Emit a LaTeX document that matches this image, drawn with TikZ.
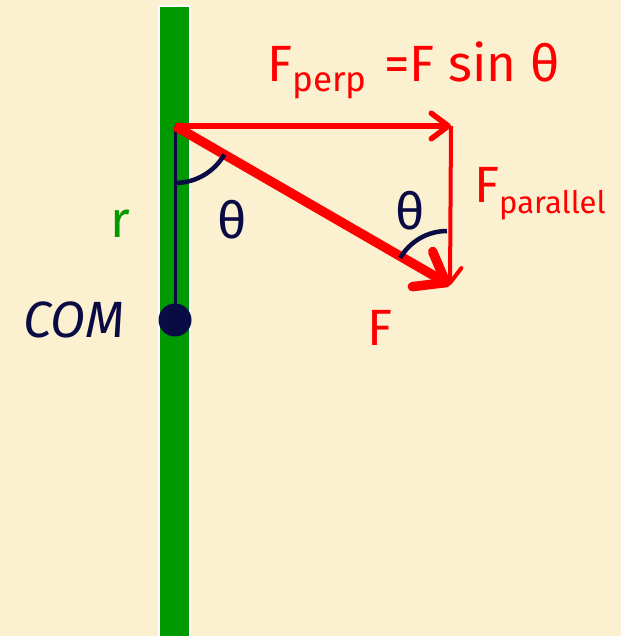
\documentclass[tikz,border=0pt]{standalone}
\usepackage{fontspec}
\setmainfont{Fira Sans}
\usetikzlibrary{arrows.meta}
\definecolor{paper}{HTML}{FBF0D0}
\definecolor{rodgreen}{HTML}{009900}
\definecolor{navy}{HTML}{0A0A45}
\definecolor{forcered}{HTML}{FF0000}
\newcommand{\bigtxt}{\fontsize{51}{51}\selectfont}
\newcommand{\subtxt}{\fontsize{35}{35}\selectfont}
\begin{document}
\begin{tikzpicture}[x=1pt, y=-1pt,
  barb/.style={-{Straight Barb[length=#1, width=1.5*#1, round]}},
  anglearc/.style={navy, line width=4.5pt}]
  % Background and frame
  \fill[paper] (0,0) rectangle (621,636);
  \useasboundingbox (0,0) rectangle (621,636);

  % Green rod
  \fill[rodgreen, draw=white, line width=1.2pt] (159,6) rectangle (190,640);

  % Coordinates
  \coordinate (P) at (175,126);  % pivot
  \coordinate (C) at (451,126);  % corner
  \coordinate (H) at (450,285);  % head of F
  \coordinate (M) at (175,320);  % centre of mass

  % Lever arm r
  \draw[navy, line width=3pt] (P) -- (M);
  \fill[navy] (M) circle (16.5);

  % Forces
  \draw[forcered, line width=5.5pt, barb=17pt] (P) -- (C);
  \draw[forcered, line width=4pt, barb=15pt] (C) -- (H);
  \draw[forcered, line width=9.5pt, barb=27pt] (P) -- (H);

  % Angles (y points down here)
  \draw[anglearc] ([shift={(0,57)}]P) arc[start angle=90, end angle=30, radius=57];
  \draw[anglearc] ([shift={(-3,-54)}]H) arc[start angle=-90, end angle=-150, radius=54];

  % Labels
  \node[anchor=base west, forcered, inner sep=0] (fperp) at (267,82)
    {\bigtxt F\raisebox{-10pt}{\subtxt perp}\hspace{18pt}=F sin θ};
  \node[anchor=base west, forcered, inner sep=0] (fpar) at (474,203)
    {\bigtxt F\raisebox{-10pt}{\fontsize{31}{31}\selectfont parallel}};
  \node[forcered, inner sep=0] (fname) at (380,328) {\bigtxt F};
  \node[navy, inner sep=0] (th1) at (232,220) {\bigtxt θ};
  \node[navy, inner sep=0] (th2) at (410,211) {\bigtxt θ};
  \node[rodgreen, inner sep=0] (rname) at (120,224) {\bigtxt r};
  \node[navy, inner sep=0] (com) at (74,320) {\bigtxt\itshape COM};
\end{tikzpicture}
\end{document}
